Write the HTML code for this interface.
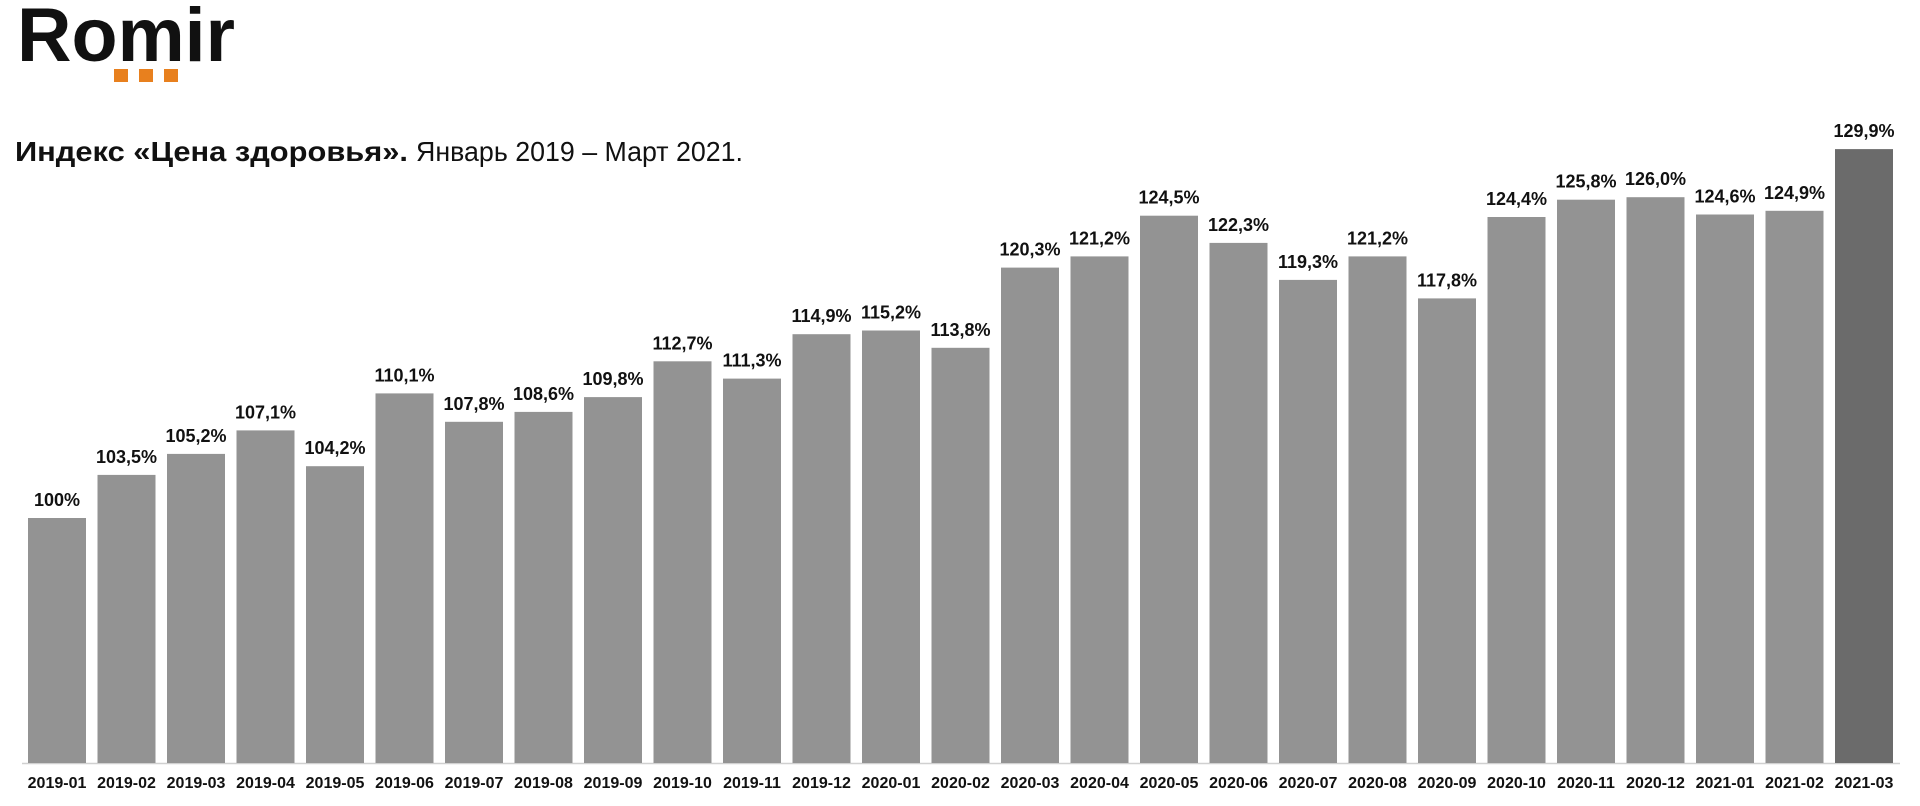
<!DOCTYPE html>
<html><head><meta charset="utf-8"><style>
html,body{margin:0;padding:0;background:#fff;width:1920px;height:806px;overflow:hidden}
svg{display:block}
</style></head><body>
<svg width="1920" height="806" viewBox="0 0 1920 806" xmlns="http://www.w3.org/2000/svg" font-family="Liberation Sans, Arial, sans-serif">
<text x="17" y="61" font-size="76" font-weight="bold" fill="#111" textLength="218" lengthAdjust="spacingAndGlyphs">Romir</text>
<rect x="114" y="69" width="14" height="13" fill="#e8801e"/>
<rect x="139" y="69" width="14" height="13" fill="#e8801e"/>
<rect x="164" y="69" width="14" height="13" fill="#e8801e"/>
<text x="15" y="161" font-size="28" font-weight="bold" fill="#111" textLength="393" lengthAdjust="spacingAndGlyphs">Индекс «Цена здоровья».</text>
<text x="416" y="161" font-size="28" fill="#111" textLength="327" lengthAdjust="spacingAndGlyphs">Январь 2019 – Март 2021.</text>
<line x1="22" y1="763.5" x2="1900" y2="763.5" stroke="#d0d0d0" stroke-width="1.5"/>
<g fill="#939393">
<rect x="28" y="518" width="58" height="245"/>
<rect x="97.5" y="474.9" width="58" height="288.1"/>
<rect x="167" y="453.9" width="58" height="309.1"/>
<rect x="236.5" y="430.4" width="58" height="332.6"/>
<rect x="306" y="466.2" width="58" height="296.8"/>
<rect x="375.5" y="393.4" width="58" height="369.6"/>
<rect x="445" y="421.8" width="58" height="341.2"/>
<rect x="514.5" y="411.9" width="58" height="351.1"/>
<rect x="584" y="397.1" width="58" height="365.9"/>
<rect x="653.5" y="361.3" width="58" height="401.7"/>
<rect x="723" y="378.6" width="58" height="384.4"/>
<rect x="792.5" y="334.2" width="58" height="428.8"/>
<rect x="862" y="330.5" width="58" height="432.5"/>
<rect x="931.5" y="347.8" width="58" height="415.2"/>
<rect x="1001" y="267.6" width="58" height="495.4"/>
<rect x="1070.5" y="256.4" width="58" height="506.6"/>
<rect x="1140" y="215.7" width="58" height="547.3"/>
<rect x="1209.5" y="242.9" width="58" height="520.1"/>
<rect x="1279" y="279.9" width="58" height="483.1"/>
<rect x="1348.5" y="256.4" width="58" height="506.6"/>
<rect x="1418" y="298.4" width="58" height="464.6"/>
<rect x="1487.5" y="217" width="58" height="546"/>
<rect x="1557" y="199.7" width="58" height="563.3"/>
<rect x="1626.5" y="197.2" width="58" height="565.8"/>
<rect x="1696" y="214.5" width="58" height="548.5"/>
<rect x="1765.5" y="210.8" width="58" height="552.2"/>
</g>
<rect x="1835" y="149.1" width="58" height="613.9" fill="#6b6b6b"/>
<g font-size="18" font-weight="bold" text-anchor="middle" fill="#111">
<text x="57" y="506">100%</text>
<text x="126.5" y="462.9">103,5%</text>
<text x="196" y="441.9">105,2%</text>
<text x="265.5" y="418.4">107,1%</text>
<text x="335" y="454.2">104,2%</text>
<text x="404.5" y="381.4">110,1%</text>
<text x="474" y="409.8">107,8%</text>
<text x="543.5" y="399.9">108,6%</text>
<text x="613" y="385.1">109,8%</text>
<text x="682.5" y="349.3">112,7%</text>
<text x="752" y="366.6">111,3%</text>
<text x="821.5" y="322.2">114,9%</text>
<text x="891" y="318.5">115,2%</text>
<text x="960.5" y="335.8">113,8%</text>
<text x="1030" y="255.6">120,3%</text>
<text x="1099.5" y="244.4">121,2%</text>
<text x="1169" y="203.7">124,5%</text>
<text x="1238.5" y="230.9">122,3%</text>
<text x="1308" y="267.9">119,3%</text>
<text x="1377.5" y="244.4">121,2%</text>
<text x="1447" y="286.4">117,8%</text>
<text x="1516.5" y="205">124,4%</text>
<text x="1586" y="187.7">125,8%</text>
<text x="1655.5" y="185.2">126,0%</text>
<text x="1725" y="202.5">124,6%</text>
<text x="1794.5" y="198.8">124,9%</text>
<text x="1864" y="137.1">129,9%</text>
</g>
<g font-size="16" font-weight="bold" text-anchor="middle" fill="#111">
<text x="57" y="788">2019-01</text>
<text x="126.5" y="788">2019-02</text>
<text x="196" y="788">2019-03</text>
<text x="265.5" y="788">2019-04</text>
<text x="335" y="788">2019-05</text>
<text x="404.5" y="788">2019-06</text>
<text x="474" y="788">2019-07</text>
<text x="543.5" y="788">2019-08</text>
<text x="613" y="788">2019-09</text>
<text x="682.5" y="788">2019-10</text>
<text x="752" y="788">2019-11</text>
<text x="821.5" y="788">2019-12</text>
<text x="891" y="788">2020-01</text>
<text x="960.5" y="788">2020-02</text>
<text x="1030" y="788">2020-03</text>
<text x="1099.5" y="788">2020-04</text>
<text x="1169" y="788">2020-05</text>
<text x="1238.5" y="788">2020-06</text>
<text x="1308" y="788">2020-07</text>
<text x="1377.5" y="788">2020-08</text>
<text x="1447" y="788">2020-09</text>
<text x="1516.5" y="788">2020-10</text>
<text x="1586" y="788">2020-11</text>
<text x="1655.5" y="788">2020-12</text>
<text x="1725" y="788">2021-01</text>
<text x="1794.5" y="788">2021-02</text>
<text x="1864" y="788">2021-03</text>
</g>
</svg>
</body></html>
